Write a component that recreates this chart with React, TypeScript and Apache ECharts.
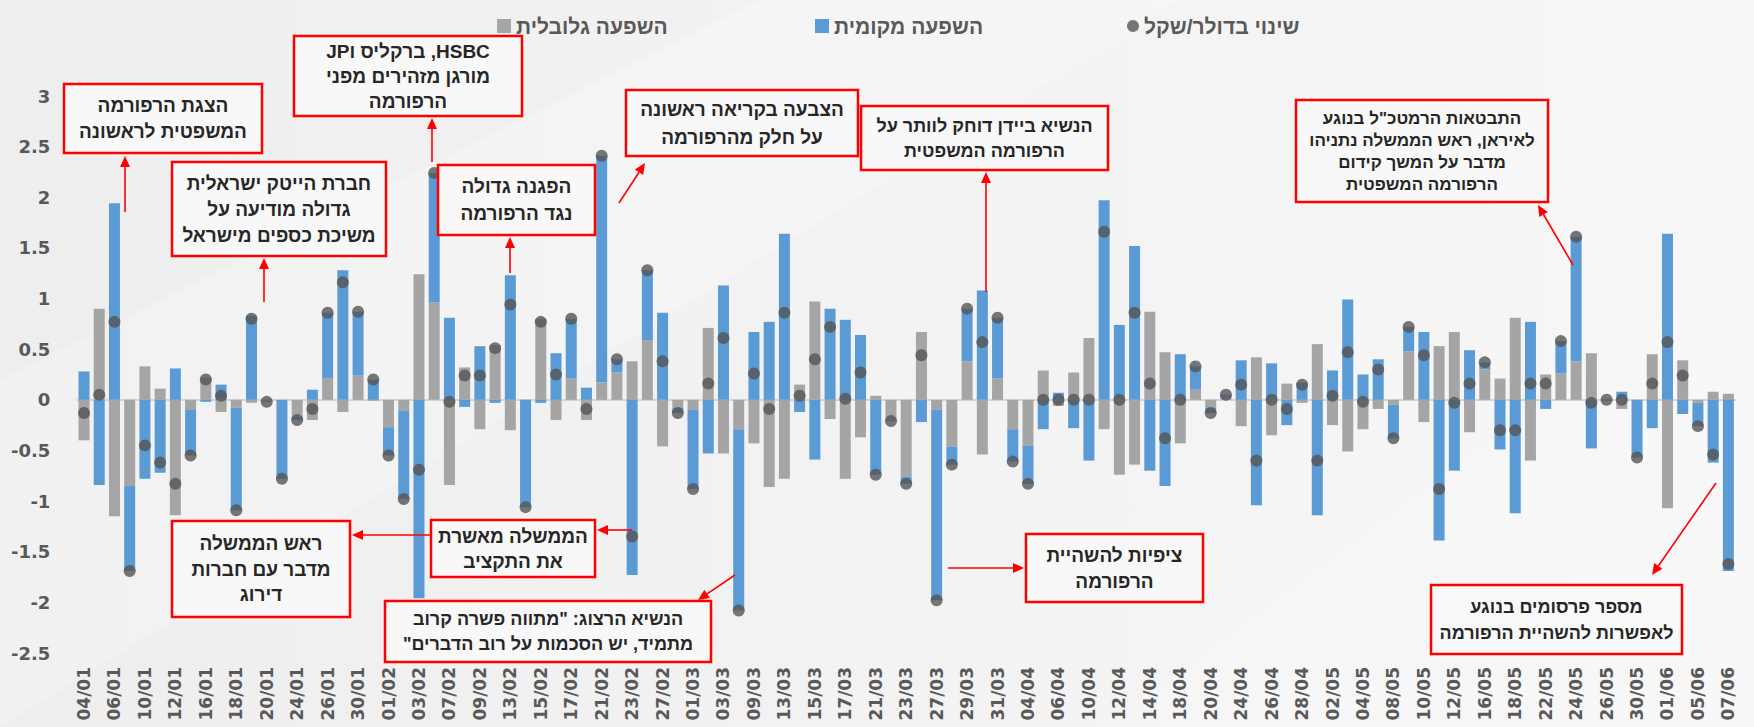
import React, { useEffect, useRef } from "react";
import * as echarts from "echarts";

const dates = [
  "04/01", "05/01", "06/01", "09/01", "10/01", "11/01", "12/01", "13/01", "16/01", "17/01",
  "18/01", "19/01", "20/01", "23/01", "24/01", "25/01", "26/01", "27/01", "30/01", "31/01",
  "01/02", "02/02", "03/02", "06/02", "07/02", "08/02", "09/02", "10/02", "13/02", "14/02",
  "15/02", "16/02", "17/02", "20/02", "21/02", "22/02", "23/02", "24/02", "27/02", "28/02",
  "01/03", "02/03", "03/03", "06/03", "09/03", "10/03", "13/03", "14/03", "15/03", "16/03",
  "17/03", "20/03", "21/03", "22/03", "23/03", "24/03", "27/03", "28/03", "29/03", "30/03",
  "31/03", "03/04", "04/04", "05/04", "06/04", "07/04", "10/04", "11/04", "12/04", "13/04",
  "14/04", "17/04", "18/04", "19/04", "20/04", "21/04", "24/04", "25/04", "26/04", "27/04",
  "28/04", "01/05", "02/05", "03/05", "04/05", "05/05", "08/05", "09/05", "10/05", "11/05",
  "12/05", "15/05", "16/05", "17/05", "18/05", "19/05", "22/05", "23/05", "24/05", "25/05",
  "26/05", "29/05", "30/05", "31/05", "01/06", "02/06", "05/06", "06/06", "07/06",
];

// השפעה גלובלית
const globalImpact = [
  -0.40, 0.90, -1.15, -0.85, 0.33, 0.11, -1.14, -0.10, 0.22, -0.12,
  -0.08, -0.03, -0.01, 0.00, -0.17, -0.20, 0.21, -0.12, 0.24, -0.01,
  -0.27, -0.11, 1.24, 0.96, -0.84, 0.32, -0.29, 0.54, -0.30, 0.00,
  0.80, -0.20, 0.21, -0.20, 0.17, 0.27, 0.38, 0.59, -0.46, -0.08,
  -0.10, 0.71, -0.53, -0.29, -0.43, -0.86, -0.78, 0.15, 0.97, -0.19,
  -0.78, -0.37, 0.04, -0.20, -0.76, 0.67, -0.10, -0.46, 0.38, -0.54,
  0.21, -0.29, -0.45, 0.29, -0.06, 0.27, 0.61, -0.29, -0.74, -0.64,
  0.87, 0.47, -0.43, 0.10, -0.08, 0.02, -0.26, 0.42, -0.35, 0.16,
  -0.03, 0.55, -0.25, -0.51, -0.29, -0.09, -0.05, 0.48, -0.22, 0.53,
  0.67, -0.32, 0.30, 0.21, 0.81, -0.60, 0.25, 0.26, 0.38, 0.46,
  0.01, -0.09, 0.00, 0.45, -1.07, 0.39, -0.03, 0.08, 0.06,
];

// השפעה מקומית
const localImpact = [
  0.28, -0.84, 1.94, -0.84, -0.78, -0.72, 0.31, -0.45, -0.02, 0.15,
  -1.01, 0.83, -0.01, -0.78, -0.03, 0.10, 0.65, 1.28, 0.63, 0.20,
  -0.28, -0.87, -1.96, 1.28, 0.81, -0.07, 0.53, -0.03, 1.23, -1.06,
  -0.03, 0.46, 0.59, 0.12, 2.24, 0.13, -1.73, 0.69, 0.86, -0.05,
  -0.78, -0.53, 1.13, -1.79, 0.67, 0.77, 1.64, -0.12, -0.59, 0.90,
  0.79, 0.64, -0.74, -0.01, -0.07, -0.22, -1.88, -0.18, 0.52, 1.08,
  0.60, -0.32, -0.38, -0.29, 0.07, -0.28, -0.60, 1.97, 0.74, 1.52,
  -0.70, -0.85, 0.45, 0.23, -0.05, 0.03, 0.39, -1.04, 0.36, -0.25,
  0.17, -1.14, 0.29, 0.99, 0.25, 0.40, -0.33, 0.24, 0.67, -1.39,
  -0.70, 0.49, 0.07, -0.49, -1.12, 0.77, -0.09, 0.32, 1.23, -0.48,
  -0.01, 0.08, -0.57, -0.28, 1.64, -0.14, -0.23, -0.62, -1.69,
];

// שינוי בדולר/שקל
const usdIlsChange = [
  -0.13, 0.05, 0.77, -1.69, -0.45, -0.62, -0.83, -0.55, 0.20, 0.04,
  -1.09, 0.80, -0.02, -0.78, -0.20, -0.09, 0.86, 1.16, 0.87, 0.20,
  -0.55, -0.98, -0.69, 2.24, -0.02, 0.24, 0.24, 0.51, 0.94, -1.06,
  0.77, 0.25, 0.80, -0.09, 2.41, 0.40, -1.35, 1.28, 0.38, -0.13,
  -0.88, 0.16, 0.61, -2.08, 0.26, -0.09, 0.86, 0.04, 0.40, 0.72,
  0.01, 0.27, -0.74, -0.21, -0.83, 0.44, -1.98, -0.64, 0.90, 0.57,
  0.81, -0.61, -0.83, 0.00, 0.00, 0.00, 0.00, 1.66, 0.00, 0.86,
  0.16, -0.38, 0.00, 0.33, -0.13, 0.05, 0.15, -0.60, 0.00, -0.09,
  0.15, -0.60, 0.04, 0.47, -0.02, 0.30, -0.38, 0.72, 0.44, -0.88,
  -0.03, 0.16, 0.37, -0.30, -0.30, 0.16, 0.16, 0.58, 1.61, -0.03,
  0.00, 0.00, -0.57, 0.16, 0.57, 0.24, -0.26, -0.54, -1.62,
];

const seriesNames = ["השפעה גלובלית", "השפעה מקומית", "שינוי בדולר/שקל"];

const RLE = "\u202B";
const PDF = "\u202C";

const annotationTexts = [
  ["הצגת הרפורמה", "המשפטית לראשונה"],
  ["חברת הייטק ישראלית", "גדולה מודיעה על", "משיכת כספים מישראל"],
  [RLE + "HSBC, ברקליס וJP" + PDF, "מורגן מזהירים מפני", "הרפורמה"],
  ["הפגנה גדולה", "נגד הרפורמה"],
  ["הצבעה בקריאה ראשונה", "על חלק מהרפורמה"],
  ["הנשיא ביידן דוחק לוותר על", "הרפורמה המשפטית"],
  ["התבטאות הרמטכ\"ל בנוגע", "לאיראן, ראש הממשלה נתניהו", "מדבר על המשך קידום", "הרפורמה המשפטית"],
  ["מספר פרסומים בנוגע", "לאפשרות להשהיית הרפורמה"],
  ["ציפיות להשהיית", "הרפורמה"],
  ["הממשלה מאשרת", "את התקציב"],
  ["ראש הממשלה", "מדבר עם חברות", "דירוג"],
  [RLE + "הנשיא הרצוג: \"מתווה פשרה קרוב" + PDF, RLE + "מתמיד, יש הסכמות על רוב הדברים\"" + PDF],
];

// layout of annotation boxes (pixels)
const boxLayout = [
  { x: 64, y: 84, w: 198, h: 69, lh: 26, fs: 19 },
  { x: 172, y: 162, w: 214, h: 94, lh: 26, fs: 19 },
  { x: 294, y: 36, w: 228, h: 80, lh: 25, fs: 19 },
  { x: 438, y: 165, w: 157, h: 70, lh: 27, fs: 19 },
  { x: 626, y: 90, w: 232, h: 66, lh: 28, fs: 19 },
  { x: 861, y: 106, w: 247, h: 64, lh: 25, fs: 18 },
  { x: 1296, y: 100, w: 252, h: 102, lh: 22, fs: 17 },
  { x: 1431, y: 585, w: 251, h: 69, lh: 26, fs: 18 },
  { x: 1026, y: 534, w: 177, h: 68, lh: 26, fs: 19 },
  { x: 431, y: 520, w: 164, h: 57, lh: 25, fs: 19 },
  { x: 172, y: 521, w: 178, h: 96, lh: 25.5, fs: 19 },
  { x: 385, y: 601, w: 326, h: 61, lh: 25, fs: 18 },
];

const arrowLayout = [
  [125, 212, 125, 156],
  [264, 302, 264, 258],
  [432, 162, 432, 118],
  [510, 273, 510, 237],
  [619, 203, 645, 163],
  [986, 292, 986, 172],
  [1573, 265, 1538, 205],
  [1716, 483, 1652, 575],
  [948, 568, 1024, 568],
  [632, 530, 597, 530],
  [431, 535, 352, 535],
  [735, 575, 698, 600],
];

const HEB_FONT = "'Liberation Sans', 'DejaVu Sans', sans-serif";
const RED = "#ff0000";

function makeArrow(a: number[]) {
  const [x1, y1, x2, y2] = a;
  const dx = x2 - x1;
  const dy = y2 - y1;
  const len = Math.sqrt(dx * dx + dy * dy);
  const ux = dx / len;
  const uy = dy / len;
  const L = 11;
  const W = 5;
  const bx = x2 - ux * L;
  const by = y2 - uy * L;
  const nx = -uy;
  const ny = ux;
  return [
    {
      type: "line",
      z: 100,
      shape: { x1, y1, x2: bx, y2: by },
      style: { stroke: RED, lineWidth: 1.6 },
    },
    {
      type: "polygon",
      z: 100,
      shape: {
        points: [
          [x2, y2],
          [bx + nx * W, by + ny * W],
          [bx - nx * W, by - ny * W],
        ],
      },
      style: { fill: RED },
    },
  ];
}

function makeBox(i: number) {
  const b = boxLayout[i];
  const lines = annotationTexts[i];
  return {
    type: "group",
    z: 100,
    children: [
      {
        type: "rect",
        z: 100,
        shape: { x: b.x, y: b.y, width: b.w, height: b.h },
        style: { fill: "rgba(248,248,248,0.9)", stroke: RED, lineWidth: 2.5 },
      },
      {
        type: "text",
        z: 101,
        style: {
          text: lines.join("\n"),
          x: b.x + b.w / 2,
          y: b.y + b.h / 2,
          align: "center",
          verticalAlign: "middle",
          textAlign: "center",
          textVerticalAlign: "middle",
          fill: "#262626",
          font: `bold ${b.fs}px ${HEB_FONT}`,
          lineHeight: b.lh,
        },
      },
    ],
  };
}

export default function App() {
  const ref = useRef<HTMLDivElement>(null);

  useEffect(() => {
    document.body.style.margin = "0";
    if (!ref.current) return;
    const chart = echarts.init(ref.current, undefined, { renderer: "svg" });

    const graphics: any[] = [];
    // subtle background shapes
    graphics.push({
      type: "polygon",
      z: -10,
      silent: true,
      shape: { points: [[0, 727], [0, 380], [760, 0], [1180, 0]] },
      style: { fill: "rgba(255,255,255,0.22)" },
    });
    graphics.push({
      type: "polygon",
      z: -10,
      silent: true,
      shape: { points: [[1100, 727], [1754, 250], [1754, 727]] },
      style: { fill: "rgba(255,255,255,0.2)" },
    });
    arrowLayout.forEach((a) => graphics.push(...makeArrow(a)));
    annotationTexts.forEach((_, i) => graphics.push(makeBox(i)));

    const legendText = {
      fontFamily: HEB_FONT,
      fontWeight: "bold",
      fontSize: 21,
      color: "#595959",
      lineHeight: 26,
    };

    chart.setOption({
      animation: false,
      backgroundColor: {
        type: "linear",
        x: 0,
        y: 0,
        x2: 1,
        y2: 0,
        colorStops: [
          { offset: 0, color: "#eeeeee" },
          { offset: 1, color: "#f7f7f7" },
        ],
      },
      graphic: { elements: graphics },
      legend: [
        {
          data: [{ name: seriesNames[0], icon: "rect" }],
          left: 492,
          top: 8,
          itemWidth: 14,
          itemHeight: 14,
          textStyle: legendText,
          selectedMode: false,
        },
        {
          data: [{ name: seriesNames[1], icon: "rect" }],
          left: 810,
          top: 8,
          itemWidth: 14,
          itemHeight: 14,
          textStyle: legendText,
          selectedMode: false,
        },
        {
          data: [{ name: seriesNames[2], icon: "circle" }],
          left: 1122,
          top: 8,
          itemWidth: 12,
          itemHeight: 12,
          textStyle: legendText,
          selectedMode: false,
        },
      ],
      grid: { left: 76.4, right: 18, top: 96, bottom: 74, containLabel: false },
      xAxis: {
        type: "category",
        data: dates,
        position: "bottom",
        axisLine: { show: false, onZero: false },
        axisTick: { show: false },
        axisLabel: {
          interval: 1,
          rotate: 90,
          margin: 14,
          fontFamily: "'DejaVu Sans', sans-serif",
          fontWeight: "bold",
          fontSize: 17,
          color: "#595959",
        },
        splitLine: { show: false },
      },
      yAxis: {
        type: "value",
        min: -2.5,
        max: 3,
        interval: 0.5,
        axisLine: { show: false },
        axisTick: { show: false },
        splitLine: { show: false },
        axisLabel: {
          margin: 26,
          fontFamily: "'DejaVu Sans', sans-serif",
          fontWeight: "bold",
          fontSize: 18,
          color: "#595959",
        },
      },
      series: [
        {
          name: seriesNames[0],
          type: "bar",
          stack: "impact",
          data: globalImpact,
          barWidth: 11,
          itemStyle: { color: "#a5a5a5" },
          markLine: {
            silent: true,
            symbol: "none",
            label: { show: false },
            lineStyle: { color: "#d4d4d4", width: 2, type: "solid" },
            data: [{ yAxis: 0 }],
            z: 1,
          },
        },
        {
          name: seriesNames[1],
          type: "bar",
          stack: "impact",
          data: localImpact,
          barWidth: 11,
          itemStyle: { color: "#5b9bd5" },
        },
        {
          name: seriesNames[2],
          type: "scatter",
          data: usdIlsChange,
          symbol: "circle",
          symbolSize: 12,
          itemStyle: { color: "#555555" },
          z: 5,
        },
      ],
    });

    return () => chart.dispose();
  }, []);

  return <div ref={ref} style={{ width: 1754, height: 727 }} />;
}
